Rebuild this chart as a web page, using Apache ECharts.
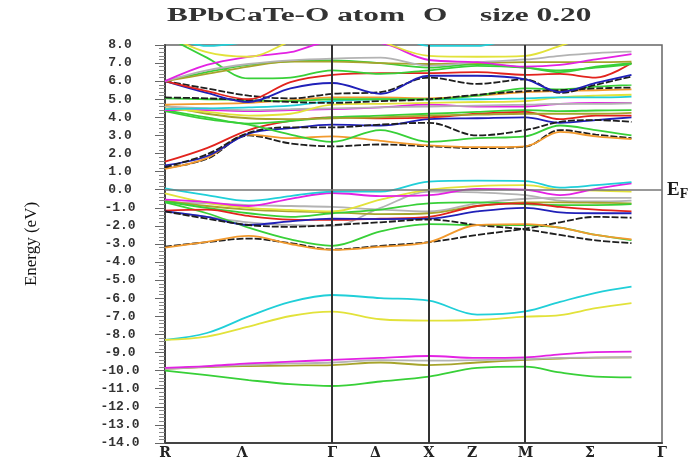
<!DOCTYPE html>
<html>
<head>
<meta charset="utf-8">
<script src="https://cdn.jsdelivr.net/npm/echarts@6/dist/echarts.min.js"></script>
<style>html,body{margin:0;padding:0;background:#fff}#c{width:698px;height:462px}</style>
</head>
<body>
<div id="c"></div>
<script>
// ---- k-path ----
const kPts = [0, 0.433, 0.866, 1.299, 1.732, 2.232, 2.732, 3.232, 3.732, 4.09, 4.46, 4.83];
const kEnd = 5.146;
const symK = [0, 1.732, 2.732, 3.732];            // high-symmetry lines (R, Γ, X, M)
const tickK = [0, 0.80, 1.732, 2.18, 2.732, 3.18, 3.732, 4.40, 5.146];
const tickLabels = ['R', 'Λ', 'Γ', 'Δ', 'X', 'Z', 'M', 'Σ', 'Γ'];
const titleParts = ['BPbCaTe-O atom', 'O', 'size 0.20'];
const fermiLabel = ['E', 'F'];

// ---- low bands ----
const lowCyan    = [-8.3, -7.92, -7.0, -6.2, -5.82, -5.99, -6.13, -6.9, -6.72, -6.2, -5.7, -5.36];
const lowYellow  = [-8.3, -8.12, -7.57, -6.98, -6.74, -7.16, -7.24, -7.2, -7.02, -6.93, -6.55, -6.27];
const lowMagenta = [-9.85, -9.75, -9.6, -9.5, -9.41, -9.3, -9.19, -9.3, -9.27, -9.1, -8.98, -8.95];
const lowOlive   = [-9.9, -9.8, -9.75, -9.72, -9.69, -9.55, -9.69, -9.55, -9.41, -9.33, -9.28, -9.27];
const lowGray    = [-9.9, -9.78, -9.68, -9.6, -9.55, -9.42, -9.45, -9.42, -9.36, -9.3, -9.28, -9.26];
const lowGreen   = [-10.0, -10.25, -10.52, -10.75, -10.85, -10.6, -10.33, -9.85, -9.78, -10.1, -10.33, -10.37];

// ---- valence bands ----
const vCyan    = [0.08, -0.3, -0.62, -0.35, -0.1, -0.1, 0.45, 0.5, 0.48, 0.12, 0.25, 0.42];
const vMagenta = [-0.55, -0.68, -0.9, -0.5, -0.18, -0.35, -0.3, 0.05, 0.0, -0.3, 0.05, 0.35];
const vYellow  = [-0.2, -0.72, -1.0, -1.12, -1.2, -0.55, 0.0, 0.2, 0.25, 0.0, -0.05, -0.1];
const vGray    = [-0.7, -0.75, -0.85, -0.9, -0.95, -1.1, -1.2, -0.75, -0.5, -0.45, -0.45, -0.45];
const vGray2   = [-1.2, -1.5, -1.8, -1.95, -2.0, -1.0, -0.1, -0.15, -0.3, -0.6, -0.65, -0.6];
const vOlive   = [-0.6, -0.9, -1.1, -1.2, -1.25, -1.35, -1.3, -0.9, -0.7, -0.7, -0.72, -0.75];
const vGreen   = [-0.65, -1.0, -1.3, -1.5, -1.3, -1.1, -0.75, -0.7, -0.8, -0.85, -0.85, -0.8];
const vGreen2  = [-0.7, -1.3, -2.1, -2.75, -3.1, -2.3, -1.9, -1.95, -1.95, -2.1, -2.5, -2.78];
const vRed     = [-1.15, -1.1, -1.45, -1.65, -1.67, -1.6, -1.5, -0.9, -0.75, -0.95, -1.1, -1.2];
const vBlue    = [-1.2, -1.5, -1.95, -1.75, -1.6, -1.62, -1.6, -1.2, -1.0, -1.25, -1.3, -1.3];
const vBlack   = [-1.2, -1.6, -1.95, -2.05, -1.95, -1.8, -1.65, -1.95, -2.2, -2.5, -2.8, -2.95];
const vBlack2  = [-3.15, -2.9, -2.7, -2.95, -3.3, -3.1, -2.9, -2.5, -2.15, -1.8, -1.5, -1.55];
const vOrange  = [-3.2, -2.88, -2.55, -3.0, -3.33, -3.15, -2.9, -1.95, -1.9, -2.1, -2.5, -2.75];

// ---- conduction bands ----
const cBlack1   = [1.2, 1.7, 3.0, 2.56, 2.4, 2.5, 2.4, 2.3, 2.38, 3.3, 3.05, 2.85];
const cOrange1  = [1.15, 1.75, 3.05, 2.85, 2.95, 2.7, 2.45, 2.35, 2.4, 3.2, 2.95, 2.8];
const cBlue1    = [1.35, 1.85, 3.1, 3.4, 3.6, 3.55, 3.9, 3.95, 4.0, 3.7, 3.85, 4.0];
const cRed1     = [1.55, 2.3, 3.3, 3.8, 4.0, 3.95, 4.0, 4.2, 4.3, 3.9, 4.1, 4.1];
const cBlack2   = [1.25, 1.95, 3.15, 3.45, 3.45, 3.6, 3.7, 3.0, 3.3, 3.75, 3.85, 3.75];
const cGreen1   = [4.35, 3.9, 3.6, 3.05, 2.65, 3.3, 2.65, 2.85, 2.95, 3.55, 3.3, 3.0];
const cGreen2   = [4.4, 4.0, 3.65, 3.8, 4.0, 4.1, 4.2, 4.3, 4.4, 4.35, 4.38, 4.4];
const cOlive1   = [4.65, 4.2, 3.95, 3.9, 3.95, 4.0, 4.1, 4.15, 4.2, 4.2, 4.2, 4.25];
const cMagenta1 = [4.4, 4.4, 4.35, 4.4, 4.45, 4.55, 4.7, 4.6, 4.6, 4.75, 4.8, 4.8];
const cGray1    = [4.6, 4.5, 4.4, 4.45, 4.5, 4.55, 4.6, 4.65, 4.7, 4.75, 4.75, 4.78];
const cYellow1  = [4.5, 4.3, 4.1, 4.2, 4.7, 4.75, 4.8, 4.85, 4.9, 5.1, 5.2, 5.25];
const cCyan1    = [4.45, 4.5, 4.55, 4.65, 4.9, 5.0, 5.0, 5.0, 5.05, 5.1, 5.1, 5.15];
const cOrange2  = [4.7, 4.75, 4.8, 4.95, 5.1, 5.1, 5.05, 5.2, 5.4, 5.45, 5.5, 5.55];
const cGreen3   = [5.05, 5.0, 4.95, 4.9, 5.0, 5.0, 5.0, 5.2, 5.6, 5.55, 5.7, 5.8];
const cBlack3   = [5.1, 5.05, 4.95, 4.85, 4.8, 4.9, 5.0, 5.25, 5.45, 5.5, 5.6, 5.65];
const cBlack4   = [6.0, 5.6, 5.2, 5.05, 5.3, 5.4, 6.2, 5.85, 6.1, 5.35, 5.8, 6.25];
const cBlue2    = [6.0, 5.35, 4.85, 5.6, 5.9, 5.3, 6.3, 6.3, 6.1, 5.4, 5.9, 6.35];
const cRed2     = [6.0, 5.45, 5.0, 5.95, 6.35, 6.45, 6.45, 6.5, 6.35, 6.4, 6.2, 7.0];
const cGreen4   = [8.5, 7.3, 6.15, 6.2, 6.6, 6.4, 6.6, 6.85, 6.75, 6.5, 6.8, 7.0];
const cGreen5   = [6.0, 6.5, 6.9, 7.1, 7.15, 7.0, 6.75, 6.95, 6.75, 6.6, 6.75, 6.95];
const cOlive2   = [6.0, 6.4, 6.8, 7.08, 7.08, 7.0, 6.95, 7.0, 7.05, 7.05, 7.05, 7.08];
const cGray2    = [6.0, 6.6, 6.95, 7.15, 7.25, 7.3, 6.85, 7.05, 7.2, 7.4, 7.55, 7.63];
const cMagenta2 = [6.0, 6.9, 7.35, 7.6, 8.2, 8.1, 7.17, 7.05, 6.8, 6.9, 7.2, 7.5];
const cYellow2  = [8.6, 7.6, 7.35, 8.2, 9.0, 8.2, 7.4, 7.35, 7.4, 7.95, 8.6, 9.0];
const cCyan2    = [8.6, 7.95, 8.2, 8.8, 9.0, 9.0, 7.95, 7.95, 8.6, 9.0, 9.0, 9.0];

// ---- styling ----
const COL = {
  red: '#e2231d', blue: '#2020b8', black: '#1e1e1e', green: '#38d038', magenta: '#e322e3',
  cyan: '#20cfd8', yellow: '#e2e23a', orange: '#f29a2e', gray: '#b3b3b3', olive: '#a6a42c'
};
const bandList = [
  [lowCyan, 'cyan'], [lowYellow, 'yellow'], [lowOlive, 'olive'], [lowGray, 'gray'], [lowMagenta, 'magenta'], [lowGreen, 'green'],
  [vGray, 'gray'], [vGray2, 'gray'], [vOlive, 'olive'], [vGreen, 'green'], [vGreen2, 'green'], [vRed, 'red'], [vBlue, 'blue'],
  [vBlack, 'black'], [vBlack2, 'black'], [vOrange, 'orange'], [vYellow, 'yellow'], [vMagenta, 'magenta'], [vCyan, 'cyan'],
  [cBlack1, 'black'], [cOrange1, 'orange'], [cBlue1, 'blue'], [cRed1, 'red'], [cBlack2, 'black'], [cGreen1, 'green'],
  [cGreen2, 'green'], [cOlive1, 'olive'], [cMagenta1, 'magenta'], [cGray1, 'gray'], [cYellow1, 'yellow'], [cCyan1, 'cyan'],
  [cOrange2, 'orange'], [cGreen3, 'green'], [cBlack3, 'black'], [cBlack4, 'black'], [cBlue2, 'blue'], [cRed2, 'red'],
  [cGreen4, 'green'], [cGreen5, 'green'], [cOlive2, 'olive'], [cGray2, 'gray'], [cMagenta2, 'magenta'], [cYellow2, 'yellow'],
  [cCyan2, 'cyan']
];

const series = bandList.map(([arr, c]) => ({
  type: 'line', data: kPts.map((k, i) => [k, arr[i]]), smooth: 0.35, symbol: 'none',
  silent: true, clip: true, z: 3,
  lineStyle: { color: COL[c], width: 1.8, type: c === 'black' ? [7, 2] : 'solid' }
}));

series.push({
  type: 'line', data: [[0, 0]], symbol: 'none', silent: true, z: 2,
  lineStyle: { opacity: 0 },
  markLine: {
    silent: true, symbol: ['none', 'none'], animation: false,
    data: symK.slice(1).map(k => ({ xAxis: k, lineStyle: { color: '#333', width: 2, type: 'solid' }, label: { show: false } }))
      .concat([{ yAxis: 0, lineStyle: { color: '#777', width: 1.5, type: 'solid' },
        label: { show: true, position: 'end', distance: 5, formatter: '{e|' + fermiLabel[0] + '}{f|' + fermiLabel[1] + '}',
          rich: { e: { fontFamily: 'Liberation Serif', fontWeight: 'bold', fontSize: 19, color: '#1a1a1a' },
                  f: { fontFamily: 'Liberation Serif', fontWeight: 'bold', fontSize: 14, color: '#1a1a1a', padding: [9, 0, 0, 0] } } } }])
  }
});

// title stretched like the reference
const titleFont = 'bold 18px "Liberation Serif"';
const cv = document.createElement('canvas').getContext('2d');
cv.font = titleFont;
const sx = 238 / cv.measureText(titleParts[0]).width;
const titleX = [167, 423, 480];

const chart = echarts.init(document.getElementById('c'), null, { renderer: 'canvas' });
chart.setOption({
  animation: false,
  backgroundColor: '#ffffff',
  grid: { left: 165, right: 36, top: 45, bottom: 19, show: true, borderColor: '#666', borderWidth: 1.5 },
  xAxis: {
    type: 'value', min: 0, max: kEnd,
    axisLine: { show: true, onZero: false, lineStyle: { color: '#444', width: 2 } },
    axisTick: { show: false }, splitLine: { show: false },
    axisLabel: {
      customValues: tickK, showMinLabel: true, showMaxLabel: true, hideOverlap: false,
      formatter: v => { const i = tickK.findIndex(t => Math.abs(t - v) < 1e-6); return i >= 0 ? tickLabels[i] : ''; },
      fontFamily: 'DejaVu Serif', fontWeight: 'bold', fontSize: 14, color: '#222', margin: 3
    }
  },
  yAxis: {
    type: 'value', min: -14, max: 8, interval: 1,
    axisLine: { show: true, onZero: false, lineStyle: { color: '#444', width: 2 } },
    axisTick: { show: true, length: 10, lineStyle: { color: '#666' } },
    minorTick: { show: true, splitNumber: 5, length: 6, lineStyle: { color: '#888' } },
    splitLine: { show: false },
    axisLabel: { formatter: v => v.toFixed(1), fontFamily: 'Liberation Mono', fontWeight: 'bold', fontSize: 13,
      color: '#333', align: 'center', margin: 45 },
    name: 'Energy (eV)', nameLocation: 'middle', nameGap: 125, nameRotate: 90,
    nameTextStyle: { fontFamily: 'Liberation Serif', fontSize: 17, color: '#111' }
  },
  graphic: titleParts.map((t, i) => ({
    type: 'text', x: titleX[i], y: 7, scaleX: sx, silent: true,
    style: { text: t, font: titleFont, fill: '#333' }
  })),
  series: series
});
</script>
</body>
</html>
